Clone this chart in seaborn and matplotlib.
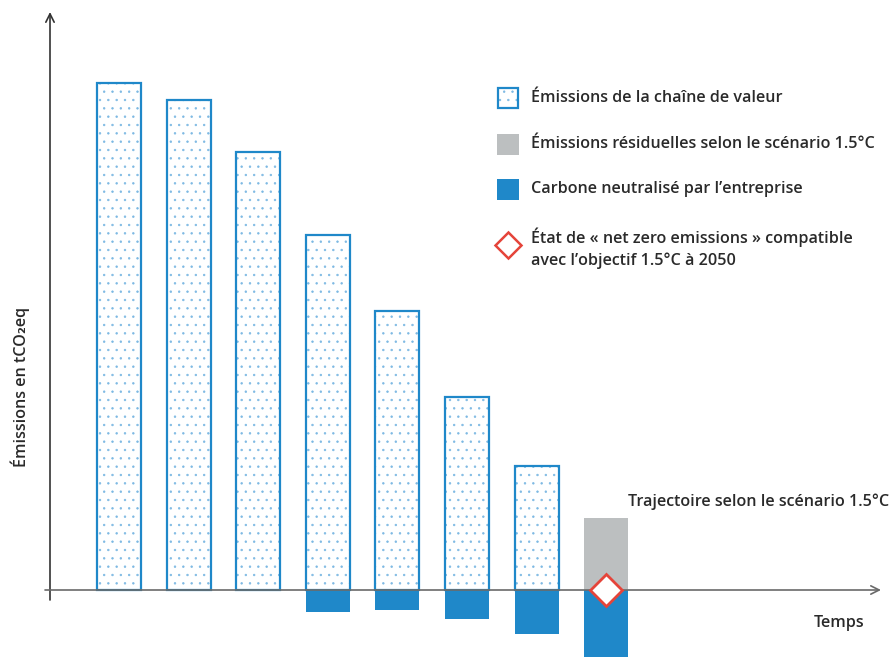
import matplotlib
matplotlib.use("Agg")
import matplotlib.pyplot as plt
from matplotlib.patches import Rectangle
import seaborn as sns
import pandas as pd

# ---- data (arbitrary units) ----
periods = ["P1", "P2", "P3", "P4", "P5", "P6", "P7", "P8"]
value_chain_periods = ["P1", "P2", "P3", "P4", "P5", "P6", "P7"]
value_chain_emissions = [507, 490, 438, 355, 279, 193, 124]
residual_periods = ["P8"]
residual_emissions = [72]
neutralized_periods = ["P4", "P5", "P6", "P7", "P8"]
neutralized_carbon = [-22, -20, -29, -44, -72]
netzero_period = ["P8"]
netzero_value = [0]

legend_labels = [
    "Émissions de la chaîne de valeur",
    "Émissions résiduelles selon le scénario 1.5°C",
    "Carbone neutralisé par l’entreprise",
    "État de « net zero emissions » compatible\navec l’objectif 1.5°C à 2050",
]
y_label = "Émissions en tCO₂eq"
x_label = "Temps"
trajectory_label = "Trajectoire selon le scénario 1.5°C"

BLUE = "#1f88c9"
DOT = "#7db9e3"
GREY = "#bcbfc0"
RED = "#e5443a"
TXT = "#2a2a2a"

sns.set_theme(style="white")
plt.rcParams["font.family"] = ["Open Sans", "DejaVu Sans"]
plt.rcParams["hatch.linewidth"] = 0.5

W, H = 894, 657
fig = plt.figure(figsize=(W / 100, H / 100), dpi=100)
ax = fig.add_axes([0, 0, 1, 1])

df_vc = pd.DataFrame({"period": value_chain_periods, "value": value_chain_emissions})
df_res = pd.DataFrame({"period": residual_periods, "value": residual_emissions})
df_neu = pd.DataFrame({"period": neutralized_periods, "value": neutralized_carbon})

bw = 0.63
# dotted fill
sns.barplot(data=df_vc, x="period", y="value", order=periods, color="white",
            saturation=1, width=bw, edgecolor=DOT, linewidth=0, hatch="..", ax=ax, zorder=2)
# outline
sns.barplot(data=df_vc, x="period", y="value", order=periods, fill=False,
            saturation=1, width=bw, edgecolor=BLUE, linewidth=1.6, ax=ax, zorder=3)
sns.barplot(data=df_res, x="period", y="value", order=periods, color=GREY,
            saturation=1, width=bw, linewidth=0, ax=ax, zorder=2)
sns.barplot(data=df_neu, x="period", y="value", order=periods, color=BLUE,
            saturation=1, width=bw, linewidth=0, ax=ax, zorder=2)

ax.plot([periods.index(p) for p in netzero_period], netzero_value, linestyle="none",
        marker="D", markersize=16, markerfacecolor="white", markeredgecolor=RED,
        markeredgewidth=2, zorder=6)

# pixel mapping: bar P1 centre at x=119 px, spacing 69.6 px; zero at y=590 px
sp = 69.6
ax.set_xlim((0 - 119) / sp, (W - 119) / sp)
ax.set_ylim(-(H - 590), 590)
ax.set_axis_off()

def fy(y):
    return H - y

ax.annotate("", xy=(50, fy(12)), xytext=(50, fy(600)), xycoords="figure pixels",
            textcoords="figure pixels",
            arrowprops=dict(arrowstyle="->,head_length=0.5,head_width=0.25",
                            color="#333333", lw=1.2, shrinkA=0, shrinkB=0), zorder=5)
ax.annotate("", xy=(881, fy(590)), xytext=(45, fy(590)), xycoords="figure pixels",
            textcoords="figure pixels",
            arrowprops=dict(arrowstyle="->,head_length=0.5,head_width=0.25",
                            color="#6a6a6a", lw=1.2, shrinkA=0, shrinkB=0), zorder=5)

fs = 11.6
fig.text(20 / W, fy(387) / H, y_label, rotation=90, ha="center", va="center",
         fontsize=fs, color=TXT, fontweight="semibold")
fig.text(839 / W, fy(623) / H, x_label, ha="center", va="center",
         fontsize=fs, color=TXT, fontweight="semibold")
fig.text(628 / W, fy(502) / H, trajectory_label, ha="left", va="center",
         fontsize=fs, color=TXT, fontweight="semibold")

# legend
tr = fig.transFigure
def box(x0, y0, w, h, **kw):
    fig.patches.append(Rectangle((x0 / W, fy(y0 + h) / H), w / W, h / H, transform=tr, **kw))

box(498, 88, 20, 20, facecolor="white", edgecolor=DOT, linewidth=0, hatch="..")
box(498, 88, 20, 20, facecolor="none", edgecolor=BLUE, linewidth=1.6)
box(497, 134, 22, 21, facecolor=GREY, edgecolor="none")
box(497, 179, 22, 21, facecolor=BLUE, edgecolor="none")
fig.lines.append(plt.Line2D([508 / W], [fy(245) / H], transform=tr, marker="D",
                            markersize=13.5, markerfacecolor="white",
                            markeredgecolor=RED, markeredgewidth=1.8, linestyle="none"))
ys = [98, 144, 189, 248]
for lab, y in zip(legend_labels, ys):
    fig.text(531 / W, fy(y) / H, lab, ha="left", va="center", fontsize=fs,
             color=TXT, fontweight="semibold", linespacing=1.45)

fig.savefig("out.png", dpi=100)
